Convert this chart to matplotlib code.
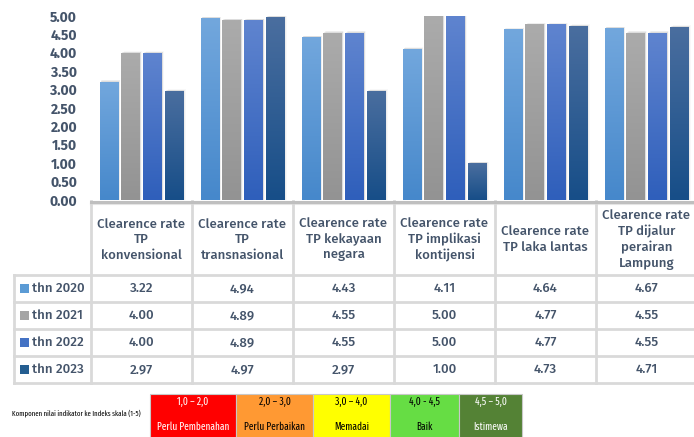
import numpy as np
import matplotlib
matplotlib.use("Agg")
import matplotlib.pyplot as plt
from matplotlib import font_manager as fm
from matplotlib.colors import LinearSegmentedColormap
from matplotlib.patches import Rectangle

# data
categories = [
    "Clearence rate\nTP\nkonvensional",
    "Clearence rate\nTP\ntransnasional",
    "Clearence rate\nTP kekayaan\nnegara",
    "Clearence rate\nTP implikasi\nkontijensi",
    "Clearence rate\nTP laka lantas",
    "Clearence rate\nTP dijalur\nperairan\nLampung",
]
series_names = ["thn 2020", "thn 2021", "thn 2022", "thn 2023"]
thn_2020 = [3.22, 4.94, 4.43, 4.11, 4.64, 4.67]
thn_2021 = [4.00, 4.89, 4.55, 5.00, 4.77, 4.55]
thn_2022 = [4.00, 4.89, 4.55, 5.00, 4.77, 4.55]
thn_2023 = [2.97, 4.97, 2.97, 1.00, 4.73, 4.71]
series_values = [thn_2020, thn_2021, thn_2022, thn_2023]
yticks = [0, 0.5, 1, 1.5, 2, 2.5, 3, 3.5, 4, 4.5, 5]

scale_ranges = ["1,0 – 2,0", "2,0 – 3,0", "3,0 – 4,0", "4,0 - 4,5", "4,5 – 5,0"]
scale_labels = ["Perlu Pembenahan", "Perlu Perbaikan", "Memadai", "Baik", "Istimewa"]
scale_title = "Komponen nilai indikator ke Indeks skala (1-5)"

# gradient colours (top, bottom) per series
grad = [("#72a7dd", "#4688cb"), ("#ababab", "#939393"),
        ("#5f84cf", "#2f5fbb"), ("#4a6e9f", "#174e88")]
swatch = ["#5b9bd5", "#a5a5a5", "#4472c4", "#255e91"]
scale_fill = ["#ff0000", "#ff9933", "#ffff00", "#66dd44", "#548235"]
scale_text = ["white", "black", "black", "black", "white"]

txt = "#44546a"
grid = "#d9d9d9"

installed = {f.name for f in fm.fontManager.ttflist}


def pick(cands):
    for c in cands:
        if c in installed:
            return c
    return "DejaVu Sans"


FONT = pick(["Fira Sans", "Noto Sans", "Roboto", "DejaVu Sans"])
NARROW = pick(["Fira Sans Extra Condensed", "Roboto Condensed", "Carlito",
               "Liberation Sans Narrow", "DejaVu Sans"])
WT = 500

W, H = 694, 437
fig = plt.figure(figsize=(W / 100, H / 100), dpi=100)

# pixel geometry
x0, colw = 91, 101
y_top, y_base = 16, 200
ax = fig.add_axes([x0 / W, 1 - y_base / H, 6 * colw / W, (y_base - y_top) / H])
for s in ax.spines.values():
    s.set_visible(False)
ax.set_xticks([])
ax.set_yticks(yticks)
ax.set_yticklabels([f"{v:.2f}" for v in yticks], fontsize=10, fontweight="bold",
                   color=txt, family=FONT)
ax.tick_params(axis="y", length=0, pad=10)

step, bw = 0.217, 0.18
for k, vals in enumerate(series_values):
    cmap = LinearSegmentedColormap.from_list(f"g{k}", [grad[k][1], grad[k][0]])
    for i, v in enumerate(vals):
        cx = i + 0.5 + (k - 1.5) * step
        left = cx - bw / 2
        # soft shadow
        for j, a in enumerate([0.10, 0.07, 0.04]):
            sh = Rectangle((left + 0.01 + j * 0.008, 0), bw, v + 0.02 + j * 0.01,
                           color="#606060", alpha=a, lw=0, zorder=1)
            ax.add_patch(sh)
        rect = Rectangle((left, 0), bw, v, lw=0, facecolor="none", zorder=2)
        ax.add_patch(rect)
        im = ax.imshow(np.linspace(0, 1, 64).reshape(-1, 1), cmap=cmap,
                       extent=[left, left + bw, 0, v], origin="lower",
                       aspect="auto", zorder=2)
        im.set_clip_path(rect)
ax.set_xlim(0, 6)
ax.set_ylim(0, 5)

# overlay in pixel coordinates for table and scale legend
ov = fig.add_axes([0, 0, 1, 1], zorder=-1)
ov.set_xlim(0, W)
ov.set_ylim(H, 0)
ov.axis("off")

xr = x0 + 6 * colw
row_y = [275, 302, 329, 356, 383]
lab_x = 14

# axis baseline
ov.plot([x0, xr], [201.5, 201.5], color="#bfbfbf", lw=2.2, zorder=3)
ov.plot([x0, xr], [203.5, 203.5], color="#e6e6e6", lw=1.5, zorder=2)
for yy in row_y:
    ov.plot([lab_x, xr], [yy, yy], color=grid, lw=2, zorder=2)
ov.plot([lab_x, lab_x], [row_y[0], row_y[-1]], color=grid, lw=2, zorder=2)
for i in range(7):
    ov.plot([x0 + i * colw] * 2, [201, row_y[-1]], color=grid, lw=2, zorder=2)

for i, cat in enumerate(categories):
    cx = x0 + (i + 0.5) * colw
    ov.text(cx, 239.5, cat, ha="center", va="center", fontsize=9.5,
            color=txt, family=FONT, fontweight=WT, linespacing=1.3)
    for k, vals in enumerate(series_values):
        cy = (row_y[k] + row_y[k + 1]) / 2
        ov.text(cx, cy, f"{vals[i]:.2f}", ha="center", va="center", fontsize=9.5,
                color=txt, family=FONT, fontweight=WT)

for k, name in enumerate(series_names):
    cy = (row_y[k] + row_y[k + 1]) / 2
    ov.add_patch(Rectangle((20, cy - 4.5), 9, 9, color=swatch[k], lw=0))
    ov.text(32, cy, name, ha="left", va="center", fontsize=9.5,
            color=txt, family=FONT, fontweight=WT)

# scale legend
box_x = [150, 236, 313, 390, 459, 522]
ov.text(12, 413, scale_title, ha="left", va="center", fontsize=5.3,
        family=NARROW, color="black")
for i in range(5):
    ov.add_patch(Rectangle((box_x[i], 393.5), box_x[i + 1] - box_x[i], 50,
                           facecolor=scale_fill[i], edgecolor="#c8c8c8", lw=0.8))
    mx = (box_x[i] + box_x[i + 1]) / 2
    ov.text(mx, 401.5, scale_ranges[i], ha="center", va="center", fontsize=7.5,
            family=NARROW, color=scale_text[i])
    ov.text(mx, 427, scale_labels[i], ha="center", va="center", fontsize=7.3,
            family=NARROW, color=scale_text[i])

fig.savefig("out.png", dpi=100)
